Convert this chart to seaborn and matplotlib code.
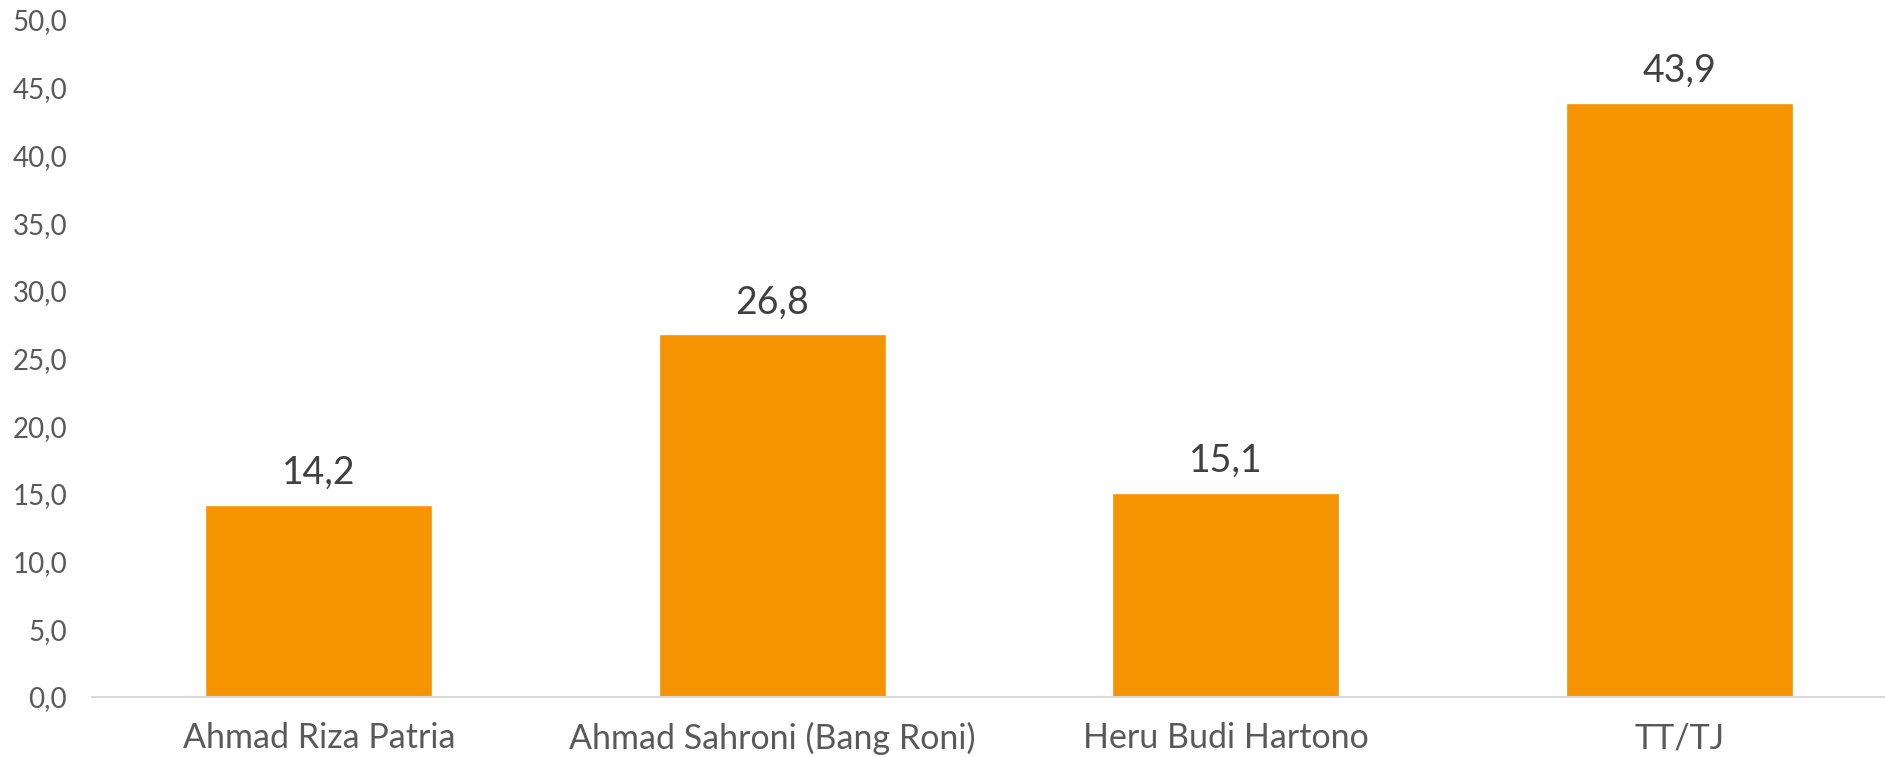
import pandas as pd
import seaborn as sns
import matplotlib.pyplot as plt
from matplotlib.ticker import FuncFormatter

candidates = ['Ahmad Riza Patria', 'Ahmad Sahroni (Bang Roni)', 'Heru Budi Hartono', 'TT/TJ']
values = [14.2, 26.8, 15.1, 43.9]

sns.set_style('white')
plt.rcParams['font.family'] = ['Lato', 'DejaVu Sans']

df = pd.DataFrame({'kandidat': candidates, 'nilai': values})

fig = plt.figure(figsize=(18.85, 7.57), dpi=100)
ax = fig.add_axes([92 / 1885, 60 / 757, 1814 / 1885, 677 / 757])

sns.barplot(data=df, x='kandidat', y='nilai', color='#F59300', width=0.5,
            saturation=1, ax=ax)

# value labels above the bars, comma as decimal sign
for i, v in enumerate(values):
    ax.annotate(f'{v:.1f}'.replace('.', ','), (i, v), xytext=(0, 10),
                textcoords='offset points', ha='center', va='bottom',
                fontsize=27, color='#404040')

ax.set_xlim(-0.5, 3.5)
ax.set_ylim(0, 50)
ax.set_yticks(range(0, 51, 5))
ax.yaxis.set_major_formatter(FuncFormatter(lambda y, _: f'{y:.1f}'.replace('.', ',')))
ax.set_xlabel('')
ax.set_ylabel('')

for s in ['top', 'right', 'left']:
    ax.spines[s].set_visible(False)
ax.spines['bottom'].set_color('#d9d9d9')
ax.spines['bottom'].set_linewidth(1.5)

ax.tick_params(axis='y', length=0, pad=18, labelsize=20, labelcolor='#595959')
ax.tick_params(axis='x', length=0, pad=18, labelsize=24.5, labelcolor='#595959')

fig.savefig('out.png', dpi=100)
